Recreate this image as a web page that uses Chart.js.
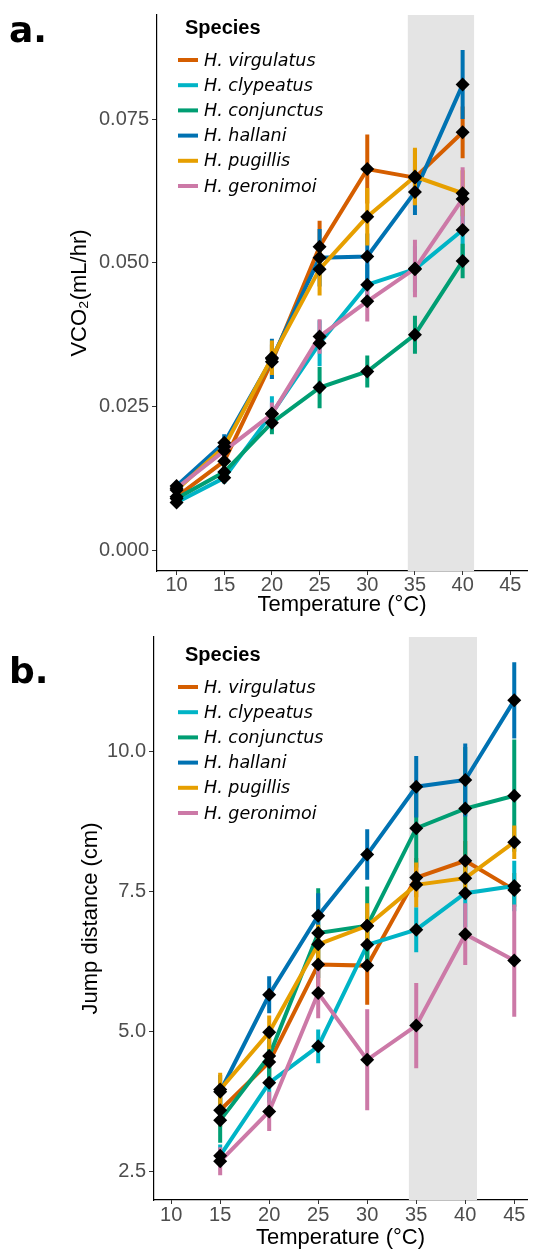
<!DOCTYPE html>
<html>
<head>
<meta charset="utf-8">
<script src="https://cdn.jsdelivr.net/npm/chart.js@4"></script>
<style>
  body { margin: 0; background: #fff; }
  .panel { position: absolute; left: 0; width: 534px; }
  #panelA { top: 0; height: 620px; }
  #panelB { top: 620px; height: 632px; }
</style>
</head>
<body>
<div class="panel" id="panelA"><canvas id="vco2Chart" width="534" height="620"></canvas></div>
<div class="panel" id="panelB"><canvas id="jumpChart" width="534" height="632"></canvas></div>
<script>
// Species and colours
const species = ['H. virgulatus', 'H. clypeatus', 'H. conjunctus', 'H. hallani', 'H. pugillis', 'H. geronimoi'];
const speciesColors = ['#D55E00', '#00B4C6', '#009E73', '#0072B2', '#E69F00', '#CC79A7'];

// Temperature axis ticks and the grey (shaded) range
const tempTicks = [10, 15, 20, 25, 30, 35, 40, 45];
const shadeRange = [34.25, 41.2];

// Panel a: VCO2 (mL/hr)
const vco2Temps = [10, 15, 20, 25, 30, 35, 40];
const vco2Ticks = [0, 0.025, 0.05, 0.075];
const vco2Virgulatus = [0.0093, 0.0155, 0.0328, 0.0528, 0.0663, 0.0648, 0.0727];
const vco2Clypeatus = [0.0083, 0.0126, 0.0238, 0.0360, 0.0462, 0.0489, 0.0557];
const vco2Conjunctus = [0.0090, 0.0136, 0.0222, 0.0283, 0.0311, 0.0375, 0.0503];
const vco2Hallani = [0.0112, 0.0187, 0.0333, 0.0509, 0.0511, 0.0623, 0.0810];
const vco2Pugillis = [0.0105, 0.0180, 0.0335, 0.0489, 0.0580, 0.0650, 0.0621];
const vco2Geronimoi = [0.0108, 0.0173, 0.0237, 0.0372, 0.0433, 0.0490, 0.0611];
// error (half width)
const vco2ErrVirgulatus = [0.0008, 0.0012, 0.0030, 0.0045, 0.0060, 0.0050, 0.0045];
const vco2ErrClypeatus = [0.0007, 0.0010, 0.0030, 0.0040, 0.0035, 0.0040, 0.0045];
const vco2ErrConjunctus = [0.0007, 0.0010, 0.0020, 0.0036, 0.0028, 0.0033, 0.0030];
const vco2ErrHallani = [0.0008, 0.0015, 0.0035, 0.0050, 0.0040, 0.0040, 0.0060];
const vco2ErrPugillis = [0.0008, 0.0013, 0.0030, 0.0046, 0.0050, 0.0050, 0.0040];
const vco2ErrGeronimoi = [0.0008, 0.0012, 0.0020, 0.0030, 0.0035, 0.0050, 0.0055];

// Panel b: jump distance (cm)
const jumpTemps = [15, 20, 25, 30, 35, 40, 45];
const jumpTicks = [2.5, 5.0, 7.5, 10.0];
const jumpVirgulatus = [3.60, 4.46, 6.20, 6.18, 7.75, 8.05, 7.53];
const jumpClypeatus = [2.79, 4.09, 4.74, 6.55, 6.82, 7.47, 7.60];
const jumpConjunctus = [3.42, 4.57, 6.76, 6.89, 8.63, 8.98, 9.21];
const jumpHallani = [3.93, 5.66, 7.07, 8.16, 9.37, 9.49, 10.91];
const jumpPugillis = [3.97, 4.99, 6.56, 6.89, 7.62, 7.74, 8.38];
const jumpGeronimoi = [2.69, 3.58, 5.69, 4.50, 5.11, 6.74, 6.27];
const jumpErrVirgulatus = [0.30, 0.30, 0.40, 0.70, 0.35, 0.35, 0.30];
const jumpErrClypeatus = [0.20, 0.35, 0.30, 0.40, 0.40, 0.60, 0.45];
const jumpErrConjunctus = [0.40, 0.50, 0.80, 0.70, 0.70, 1.10, 1.00];
const jumpErrHallani = [0.30, 0.33, 0.40, 0.45, 0.55, 0.65, 0.68];
const jumpErrPugillis = [0.30, 0.30, 0.35, 0.40, 0.40, 0.35, 0.30];
const jumpErrGeronimoi = [0.25, 0.35, 0.45, 0.90, 0.76, 0.55, 1.00];

const vco2Series = [vco2Virgulatus, vco2Clypeatus, vco2Conjunctus, vco2Hallani, vco2Pugillis, vco2Geronimoi];
const vco2Errors = [vco2ErrVirgulatus, vco2ErrClypeatus, vco2ErrConjunctus, vco2ErrHallani, vco2ErrPugillis, vco2ErrGeronimoi];
const jumpSeries = [jumpVirgulatus, jumpClypeatus, jumpConjunctus, jumpHallani, jumpPugillis, jumpGeronimoi];
const jumpErrors = [jumpErrVirgulatus, jumpErrClypeatus, jumpErrConjunctus, jumpErrHallani, jumpErrPugillis, jumpErrGeronimoi];

const sansFont = "'Liberation Sans', Arial, sans-serif";

// build line + error bar + diamond datasets
function buildDatasets(xs, series, errors) {
  const lines = [];
  const bars = [];
  const points = [];
  series.forEach(function (ys, i) {
    const pts = xs.map(function (x, j) { return { x: x, y: ys[j] }; });
    lines.push({
      label: species[i],
      data: pts,
      borderColor: speciesColors[i],
      borderWidth: 4,
      pointRadius: 0,
      tension: 0,
      order: 30 - i,
    });
    const errPts = [];
    xs.forEach(function (x, j) {
      errPts.push({ x: x, y: ys[j] - errors[i][j] }, { x: x, y: ys[j] + errors[i][j] }, { x: x, y: null });
    });
    bars.push({
      label: species[i] + ' error',
      data: errPts,
      borderColor: speciesColors[i],
      borderWidth: 4,
      borderCapStyle: 'butt',
      pointRadius: 0,
      spanGaps: false,
      order: 20 - i,
    });
    points.push({
      label: species[i] + ' mean',
      data: pts,
      showLine: false,
      pointStyle: 'rectRot',
      pointRadius: 7,
      pointBackgroundColor: '#000',
      pointBorderColor: '#000',
      pointBorderWidth: 0,
      order: 0,
    });
  });
  return lines.concat(bars, points);
}

// shaded temperature window
const shadePlugin = {
  id: 'shade',
  beforeDatasetsDraw(chart) {
    const { ctx, chartArea, scales } = chart;
    const x0 = scales.x.getPixelForValue(shadeRange[0]);
    const x1 = scales.x.getPixelForValue(shadeRange[1]);
    ctx.save();
    ctx.fillStyle = '#E4E4E4';
    ctx.fillRect(x0, chartArea.top, x1 - x0, chartArea.bottom - chartArea.top);
    ctx.restore();
  },
};

// panel letter + species legend
const decorPlugin = {
  id: 'decor',
  afterDraw(chart, args, opts) {
    const ctx = chart.ctx;
    ctx.save();
    ctx.fillStyle = '#000';
    ctx.textBaseline = 'alphabetic';
    ctx.font = "bold 36px 'DejaVu Sans'";
    ctx.fillText(opts.letter, 9, opts.letterY);

    ctx.textBaseline = 'middle';
    ctx.font = "bold 20px " + sansFont;
    ctx.fillText('Species', 185, opts.legendY);
    ctx.font = "italic 17.5px 'DejaVu Sans'";
    species.forEach(function (name, i) {
      const y = opts.legendY + 32 + i * 25.2;
      ctx.strokeStyle = speciesColors[i];
      ctx.lineWidth = 4;
      ctx.beginPath();
      ctx.moveTo(178, y);
      ctx.lineTo(198, y);
      ctx.stroke();
      ctx.fillStyle = '#000';
      ctx.fillText(name, 204, y + 1);
    });
    ctx.restore();
  },
};

function makeChart(canvasId, cfg) {
  const ctx = document.getElementById(canvasId).getContext('2d');
  return new Chart(ctx, {
    type: 'line',
    data: { datasets: buildDatasets(cfg.xs, cfg.series, cfg.errors) },
    plugins: [shadePlugin, decorPlugin],
    options: {
      responsive: false,
      animation: false,
      devicePixelRatio: 1,
      events: [],
      layout: { padding: cfg.padding },
      plugins: {
        legend: { display: false },
        tooltip: { enabled: false },
        decor: { letter: cfg.letter, letterY: cfg.letterY, legendY: cfg.legendY },
      },
      scales: {
        x: {
          type: 'linear',
          min: cfg.xMin,
          max: cfg.xMax,
          afterBuildTicks: function (scale) {
            scale.ticks = tempTicks.map(function (v) { return { value: v }; });
          },
          afterFit: function (scale) { scale.height = cfg.xHeight; },
          ticks: {
            autoSkip: false,
            maxRotation: 0,
            color: '#4D4D4D',
            padding: cfg.xTickPad,
            font: { family: sansFont, size: 20, lineHeight: 1 },
          },
          grid: { drawOnChartArea: false, drawTicks: true, tickLength: 4, color: '#333' },
          border: { display: true, color: '#000', width: 1.2 },
          title: {
            display: true,
            text: 'Temperature (°C)',
            color: '#000',
            font: { family: sansFont, size: 22 },
            padding: { top: 0, bottom: cfg.xTitlePad },
          },
        },
        y: {
          min: cfg.yMin,
          max: cfg.yMax,
          afterBuildTicks: function (scale) {
            scale.ticks = cfg.yTicks.map(function (v) { return { value: v }; });
          },
          afterFit: function (scale) { scale.width = cfg.yWidth; },
          ticks: {
            color: '#4D4D4D',
            padding: 3,
            font: { family: sansFont, size: 20 },
            callback: function (value) { return value.toFixed(cfg.decimals); },
          },
          grid: { drawOnChartArea: false, drawTicks: true, tickLength: 5, color: '#333' },
          border: { display: true, color: '#000', width: 1.2 },
          title: {
            display: true,
            text: cfg.yTitle,
            color: '#000',
            font: { family: sansFont, size: 22 },
            padding: { top: cfg.yTitlePad, bottom: 0 },
          },
        },
      },
    },
  });
}

// Grafik a: VCO2
const vco2Chart = makeChart('vco2Chart', {
  xs: vco2Temps, series: vco2Series, errors: vco2Errors,
  xMin: 7.95, xMax: 46.75, yMin: -0.0036, yMax: 0.0931,
  yTicks: vco2Ticks, decimals: 3, yTitle: 'VCO₂(mL/hr)',
  padding: { top: 8, right: 7, bottom: 0, left: 0 },
  xHeight: 49, yWidth: 157, xTickPad: 0, xTitlePad: 2, yTitlePad: 67,
  letter: 'a.', letterY: 42, legendY: 28,
});

// Grafik b: jump distance
const jumpChart = makeChart('jumpChart', {
  xs: jumpTemps, series: jumpSeries, errors: jumpErrors,
  xMin: 8.25, xMax: 46.3, yMin: 2.0, yMax: 12.04,
  yTicks: jumpTicks, decimals: 1, yTitle: 'Jump distance (cm)',
  padding: { top: 17, right: 1, bottom: 0, left: 0 },
  xHeight: 52, yWidth: 154, xTickPad: 1, xTitlePad: 1, yTitlePad: 78,
  letter: 'b.', letterY: 63, legendY: 35,
});
</script>
</body>
</html>
